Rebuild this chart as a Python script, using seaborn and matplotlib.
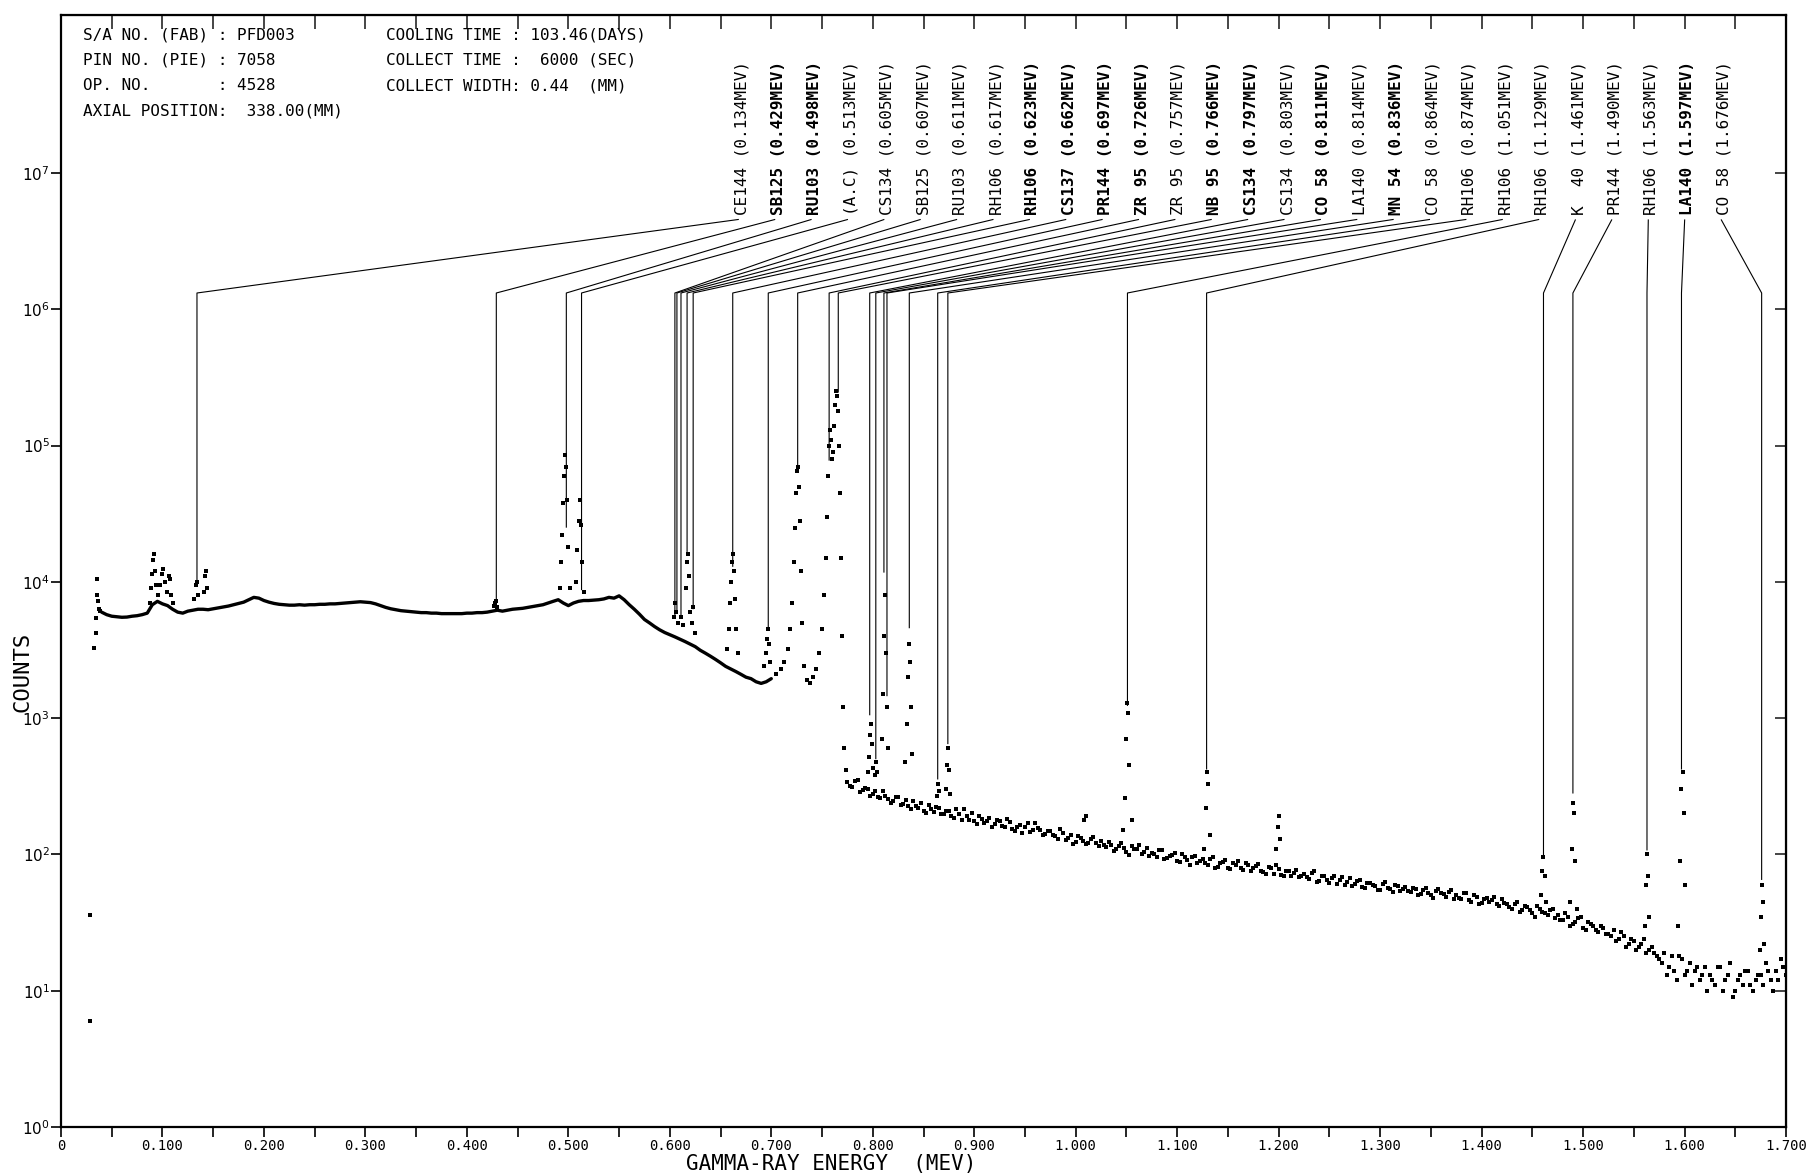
import numpy as np
import pandas as pd
import matplotlib
matplotlib.use("Agg")
import matplotlib.pyplot as plt
import seaborn as sns
from matplotlib.ticker import FixedLocator, FuncFormatter, NullFormatter

# ---------------------------------------------------------------- spectrum data
# Continuum below 0.70 MeV, one reading every 5 keV starting at 0.040 MeV
LOW_COUNTS = [
    6000, 5750, 5600, 5550, 5500, 5520, 5600, 5650, 5750, 5900,   # 0.040-0.085
    6800, 7200, 6900, 6700, 6300, 6000, 5900, 6100, 6200, 6300,   # 0.090-0.135
    6300, 6250, 6350, 6450, 6550, 6650, 6800, 6950, 7100, 7400,   # 0.140-0.185
    7700, 7600, 7300, 7100, 6950, 6850, 6800, 6750, 6750, 6800,   # 0.190-0.235
    6750, 6800, 6800, 6850, 6850, 6900, 6900, 6950, 7000, 7050,   # 0.240-0.285
    7100, 7150, 7100, 7050, 6900, 6700, 6500, 6350, 6250, 6150,   # 0.290-0.335
    6100, 6050, 6000, 5950, 5950, 5900, 5900, 5850, 5850, 5850,   # 0.340-0.385
    5850, 5850, 5900, 5900, 5950, 5950, 6000, 6100, 6200, 6100,   # 0.390-0.435
    6200, 6300, 6350, 6400, 6500, 6600, 6700, 6800, 7000, 7200,   # 0.440-0.485
    7400, 7000, 6700, 7000, 7200, 7300, 7300, 7350, 7400, 7500,   # 0.490-0.535
    7700, 7600, 7900, 7400, 6800, 6300, 5800, 5300, 5000, 4700,   # 0.540-0.585
    4450, 4250, 4100, 3950, 3800, 3650, 3500, 3350, 3150, 3000,   # 0.590-0.635
    2850, 2700, 2550, 2400, 2300, 2200, 2100, 2000, 1950, 1850,   # 0.640-0.685
    1800, 1850, 1950,                                             # 0.690-0.700
]

# Continuum above 0.775 MeV: two interleaved sets of channel readings
HIGH_A = [
    340, 310, 352, 295, 300, 278, 262, 290, 255, 248,
    262, 236, 228, 248, 221, 210, 232, 205, 218, 199,
    208, 186, 197, 214, 180, 176, 192, 171, 185, 168,
    177, 160, 172, 149, 165, 158, 146, 169, 152, 141,
    148, 136, 155, 128, 139, 124, 133, 119, 130, 121,
    125, 113, 118, 109, 122, 104, 115, 110, 101, 112,
    103, 96, 108, 94, 99, 89, 101, 91, 95, 86,
    92, 84, 95, 81, 88, 79, 86, 90, 77, 83,
    79, 85, 74, 81, 72, 78, 70, 76, 73, 68,
    72, 66, 75, 64, 69, 62, 70, 65, 60, 67,
    61, 65, 57, 62, 59, 55, 63, 56, 60, 54,
    58, 53, 56, 51, 57, 50, 54, 52, 49, 55,
    50, 47, 52, 45, 49, 44, 48, 46, 43, 47,
    43, 40, 45, 39, 41, 37, 42, 38, 36, 40,
    36, 33, 35, 31, 34, 29, 32, 30, 27, 29,
    26, 28, 24, 25, 22, 23, 21, 24, 20, 19,
    17, 19, 15, 14, 18, 13, 16, 14, 12, 15,
    13, 11, 15, 12, 16, 10, 13, 14, 11, 12,
    13, 16, 12, 14, 17, 13,
]
HIGH_B = [
    320, 345, 288, 305, 270, 292, 258, 270, 240, 262,
    230, 251, 214, 226, 240, 203, 215, 222, 198, 210,
    192, 215, 178, 190, 201, 168, 183, 177, 160, 179,
    162, 181, 155, 160, 143, 170, 150, 156, 138, 149,
    140, 129, 144, 133, 120, 137, 126, 122, 134, 115,
    117, 124, 106, 116, 111, 99, 109, 118, 104, 98,
    100, 107, 92, 97, 103, 88, 95, 84, 97, 90,
    86, 93, 80, 87, 91, 78, 84, 80, 87, 75,
    82, 76, 72, 79, 83, 71, 75, 69, 77, 70,
    68, 73, 63, 70, 65, 67, 61, 68, 63, 59,
    64, 58, 62, 60, 55, 61, 57, 53, 59, 56,
    54, 57, 50, 55, 52, 48, 56, 51, 53, 47,
    48, 52, 46, 50, 43, 47, 45, 49, 42, 44,
    41, 43, 38, 42, 39, 35, 40, 37, 39, 34,
    33, 37, 30, 32, 35, 28, 31, 28, 30, 26,
    25, 23, 27, 21, 24, 20, 22, 19, 21, 18,
    16, 13, 18, 12, 17, 14, 11, 15, 13, 10,
    12, 15, 10, 13, 9, 12, 11, 14, 10, 13,
    11, 14, 10, 12, 15,
]

# Individual channels on the photopeaks (energy in MeV, counts)
PEAK_E = [
    0.029, 0.029, 0.033, 0.034, 0.034, 0.035, 0.035, 0.036, 0.037, 0.038,
    0.088, 0.089, 0.090, 0.091, 0.092, 0.093, 0.094, 0.096, 0.098, 0.100, 0.101, 0.102, 0.104, 0.106, 0.107, 0.108, 0.110,
    0.131, 0.133, 0.134, 0.135, 0.141, 0.142, 0.143, 0.144,
    0.427, 0.428, 0.429, 0.430,
    0.492, 0.493, 0.494, 0.495, 0.496, 0.497, 0.498, 0.499, 0.500, 0.502, 0.508, 0.509, 0.510, 0.511, 0.512, 0.513, 0.515,
    0.604, 0.605, 0.606, 0.608, 0.611, 0.613, 0.616, 0.617, 0.618, 0.619, 0.620, 0.622, 0.623, 0.625,
    0.656, 0.658, 0.659, 0.660, 0.661, 0.662, 0.663, 0.664, 0.665, 0.667,
    0.693, 0.695, 0.696, 0.697, 0.698, 0.699,
    0.705, 0.710, 0.713, 0.716, 0.718, 0.720, 0.722, 0.723, 0.724, 0.725,
    0.726, 0.727, 0.728, 0.729, 0.730, 0.732, 0.735, 0.738, 0.741, 0.744,
    0.747, 0.750, 0.752, 0.754, 0.755, 0.756, 0.757, 0.758, 0.759, 0.760,
    0.761, 0.762, 0.763, 0.764, 0.765, 0.766, 0.767, 0.768, 0.769, 0.770,
    0.771, 0.772, 0.774,
    0.795, 0.796, 0.797, 0.798, 0.799, 0.800, 0.802, 0.803, 0.804,
    0.809, 0.810, 0.811, 0.812, 0.813, 0.814, 0.815,
    0.832, 0.834, 0.835, 0.836, 0.837, 0.838, 0.839,
    0.863, 0.864, 0.865, 0.872, 0.873, 0.874, 0.875, 0.876,
    1.008, 1.010,
    1.047, 1.049, 1.050, 1.051, 1.052, 1.053, 1.055,
    1.126, 1.128, 1.129, 1.130, 1.132,
    1.197, 1.199, 1.200, 1.201,
    1.459, 1.460, 1.461, 1.462, 1.463,
    1.487, 1.489, 1.490, 1.491, 1.492, 1.494,
    1.561, 1.562, 1.563, 1.564, 1.565,
    1.594, 1.596, 1.597, 1.598, 1.599, 1.600,
    1.674, 1.675, 1.676, 1.677, 1.678,
]
PEAK_COUNTS = [
    36, 6, 3300, 4200, 5400, 8000, 10500, 7200, 6300, 6100,
    7000, 9000, 11500, 14500, 16000, 12000, 9500, 8000, 9500, 11500, 12500, 10000, 8500, 11000, 10500, 8000, 7000,
    7500, 9500, 10000, 8000, 8500, 11000, 12000, 9000,
    6600, 7000, 7200, 6500,
    9000, 14000, 22000, 38000, 60000, 85000, 70000, 40000, 18000, 9000, 10000, 17000, 28000, 40000, 26000, 14000, 8500,
    5500, 7000, 6000, 5000, 5500, 4800, 9000, 14000, 16000, 11000, 6000, 5000, 6500, 4200,
    3200, 4500, 7000, 10000, 14000, 16000, 12000, 7500, 4500, 3000,
    2400, 3000, 3800, 4500, 3500, 2600,
    2100, 2300, 2600, 3200, 4500, 7000, 14000, 25000, 45000, 65000,
    70000, 50000, 28000, 12000, 5000, 2400, 1900, 1800, 2000, 2300,
    3000, 4500, 8000, 15000, 30000, 60000, 100000, 130000, 110000, 80000,
    90000, 140000, 200000, 250000, 230000, 180000, 100000, 45000, 15000, 4000,
    1200, 600, 420,
    400, 520, 750, 900, 650, 430, 380, 480, 400,
    700, 1500, 4000, 8000, 3000, 1200, 600,
    480, 900, 2000, 3500, 2600, 1200, 550,
    270, 330, 290, 300, 450, 600, 420, 280,
    180, 190,
    150, 260, 700, 1300, 1100, 450, 180,
    110, 220, 400, 330, 140,
    110, 160, 190, 130,
    50, 75, 95, 70, 45,
    45, 110, 240, 200, 90, 40,
    30, 60, 100, 70, 35,
    30, 90, 300, 400, 200, 60,
    20, 35, 60, 45, 22,
]

# ---------------------------------------------------------------- nuclide lines
NUCLIDES = ["CE144", "SB125", "RU103", "(A.C)", "CS134", "SB125", "RU103",
            "RH106", "RH106", "CS137", "PR144", "ZR 95", "ZR 95", "NB 95",
            "CS134", "CS134", "CO 58", "LA140", "MN 54", "CO 58", "RH106",
            "RH106", "RH106", "K  40", "PR144", "RH106", "LA140", "CO 58"]
LINE_E = [0.134, 0.429, 0.498, 0.513, 0.605, 0.607, 0.611, 0.617, 0.623,
          0.662, 0.697, 0.726, 0.757, 0.766, 0.797, 0.803, 0.811, 0.814,
          0.836, 0.864, 0.874, 1.051, 1.129, 1.461, 1.490, 1.563, 1.597, 1.676]
LINE_BOTTOM = [10000, 6300, 25000, 8700, 5500, 5900, 5400, 16600, 6300,
               12900, 4500, 67600, 77600, 245000, 1050, 500, 11700, 1450,
               4570, 355, 645, 1230, 420, 95, 280, 107, 420, 65]
LINE_BOLD = [False, True, True, False, False, False, False, False, True,
             True, True, True, False, True, True, False, True, False,
             True, False, False, False, False, False, False, False, True, False]

X_TICKS = [0.0, 0.1, 0.2, 0.3, 0.4, 0.5, 0.6, 0.7, 0.8, 0.9,
           1.0, 1.1, 1.2, 1.3, 1.4, 1.5, 1.6, 1.7]
X_TICK_LABELS = ["0", "0.100", "0.200", "0.300", "0.400", "0.500", "0.600",
                 "0.700", "0.800", "0.900", "1.000", "1.100", "1.200",
                 "1.300", "1.400", "1.500", "1.600", "1.700"]
Y_DECADES = [0, 1, 2, 3, 4, 5, 6, 7]

HEADER_LEFT = ["S/A NO. (FAB) : PFD003",
               "PIN NO. (PIE) : 7058",
               "OP. NO.       : 4528",
               "AXIAL POSITION:  338.00(MM)"]
HEADER_RIGHT = ["COOLING TIME : 103.46(DAYS)",
                "COLLECT TIME :  6000 (SEC)",
                "COLLECT WIDTH: 0.44  (MM)"]

# ---------------------------------------------------------------- tables
low_df = pd.DataFrame({"energy": np.round(0.040 + 0.005 * np.arange(len(LOW_COUNTS)), 4),
                       "counts": LOW_COUNTS})
high_df = pd.concat([
    pd.DataFrame({"energy": np.round(0.775 + 0.005 * np.arange(len(HIGH_A)), 4), "counts": HIGH_A}),
    pd.DataFrame({"energy": np.round(0.7775 + 0.005 * np.arange(len(HIGH_B)), 4), "counts": HIGH_B}),
])
peak_df = pd.DataFrame({"energy": PEAK_E, "counts": PEAK_COUNTS})

# ---------------------------------------------------------------- figure
sns.set_style("white")
plt.rcParams["font.family"] = ["DejaVu Sans Mono", "DejaVu Sans"]
plt.rcParams["mathtext.fontset"] = "dejavusans"

W, H = 1816, 1175
fig = plt.figure(figsize=(W / 100, H / 100), dpi=100)
ax = fig.add_axes([61 / W, 1 - 1127 / H, (1786 - 61) / W, (1127 - 15) / H])

sns.lineplot(data=low_df, x="energy", y="counts", ax=ax, color="black",
             lw=2.4, estimator=None, sort=True)
sns.scatterplot(data=high_df, x="energy", y="counts", ax=ax, color="black",
                s=6, marker="s", linewidth=0)
sns.scatterplot(data=peak_df, x="energy", y="counts", ax=ax, color="black",
                s=5, marker="s", linewidth=0)

ax.set_yscale("log")
ax.set_xlim(0, 1.7)
ax.set_ylim(1, 10 ** 8.16)

# nuclide identification: label, slanted leader, vertical drop to the peak
KNEE, LEAD_TOP, TEXT_BASE = 10 ** 6.12, 10 ** 6.66, 10 ** 6.69
label_x = np.linspace(0.671, 1.639, len(LINE_E))
for lx, e, bottom, name, bold in zip(label_x, LINE_E, LINE_BOTTOM, NUCLIDES, LINE_BOLD):
    ax.plot([lx - 0.003, e, e], [LEAD_TOP, KNEE, bottom], color="black", lw=0.8,
            solid_capstyle="butt")
    ax.text(lx, TEXT_BASE, f"{name} ({e:.3f}MEV)", rotation=90, ha="center",
            va="bottom", fontsize=11.5, family="DejaVu Sans Mono",
            fontweight="bold" if bold else "normal", color="black")

# axes frame and ticks
for sp in ax.spines.values():
    sp.set_visible(True)
    sp.set_color("black")
    sp.set_linewidth(1.6)

ax.xaxis.set_major_locator(FixedLocator(X_TICKS))
ax.set_xticklabels(X_TICK_LABELS, fontsize=10)
ax.xaxis.set_minor_locator(FixedLocator(np.round(np.arange(0.05, 1.7, 0.1), 3)))
ax.tick_params(axis="x", which="both", direction="out", length=7, width=1.2,
               bottom=True, top=False, pad=2, colors="black")

ax.yaxis.set_major_locator(FixedLocator([10.0 ** d for d in Y_DECADES]))
ax.yaxis.set_major_formatter(FuncFormatter(lambda v, p: rf"$10^{{{int(round(np.log10(v)))}}}$"))
ax.yaxis.set_minor_formatter(NullFormatter())
ax.yaxis.set_minor_locator(FixedLocator([]))
ax.tick_params(axis="y", which="major", direction="out", length=7, width=1.2,
               left=True, right=False, labelsize=11, pad=1, colors="black")

top = ax.secondary_xaxis("top")
top.xaxis.set_major_locator(FixedLocator(np.round(np.arange(0.05, 1.7, 0.05), 3)))
top.tick_params(direction="in", length=10, width=1.2, labeltop=False)
top.set_xticklabels([])

right = ax.secondary_yaxis("right")
right.yaxis.set_major_locator(FixedLocator([10.0 ** d for d in Y_DECADES]))
right.yaxis.set_minor_locator(FixedLocator([]))
right.tick_params(direction="in", length=8, width=1.2, labelright=False)
right.set_yticklabels([])

ax.set_xlabel("")
ax.set_ylabel("")
fig.text(831 / W, 1 - 1164 / H, "GAMMA-RAY ENERGY  (MEV)", ha="center",
         va="center", fontsize=15, color="black")
fig.text(23 / W, 1 - 672 / H, "COUNTS", rotation=90, ha="center",
         va="center", fontsize=16, color="black")

for i, line in enumerate(HEADER_LEFT):
    fig.text(83 / W, 1 - (35 + 25.4 * i) / H, line, ha="left", va="center",
             fontsize=11.5, color="black")
for i, line in enumerate(HEADER_RIGHT):
    fig.text(386 / W, 1 - (35 + 25.4 * i) / H, line, ha="left", va="center",
             fontsize=11.5, color="black")

fig.savefig("out.png", dpi=100, facecolor="white")
